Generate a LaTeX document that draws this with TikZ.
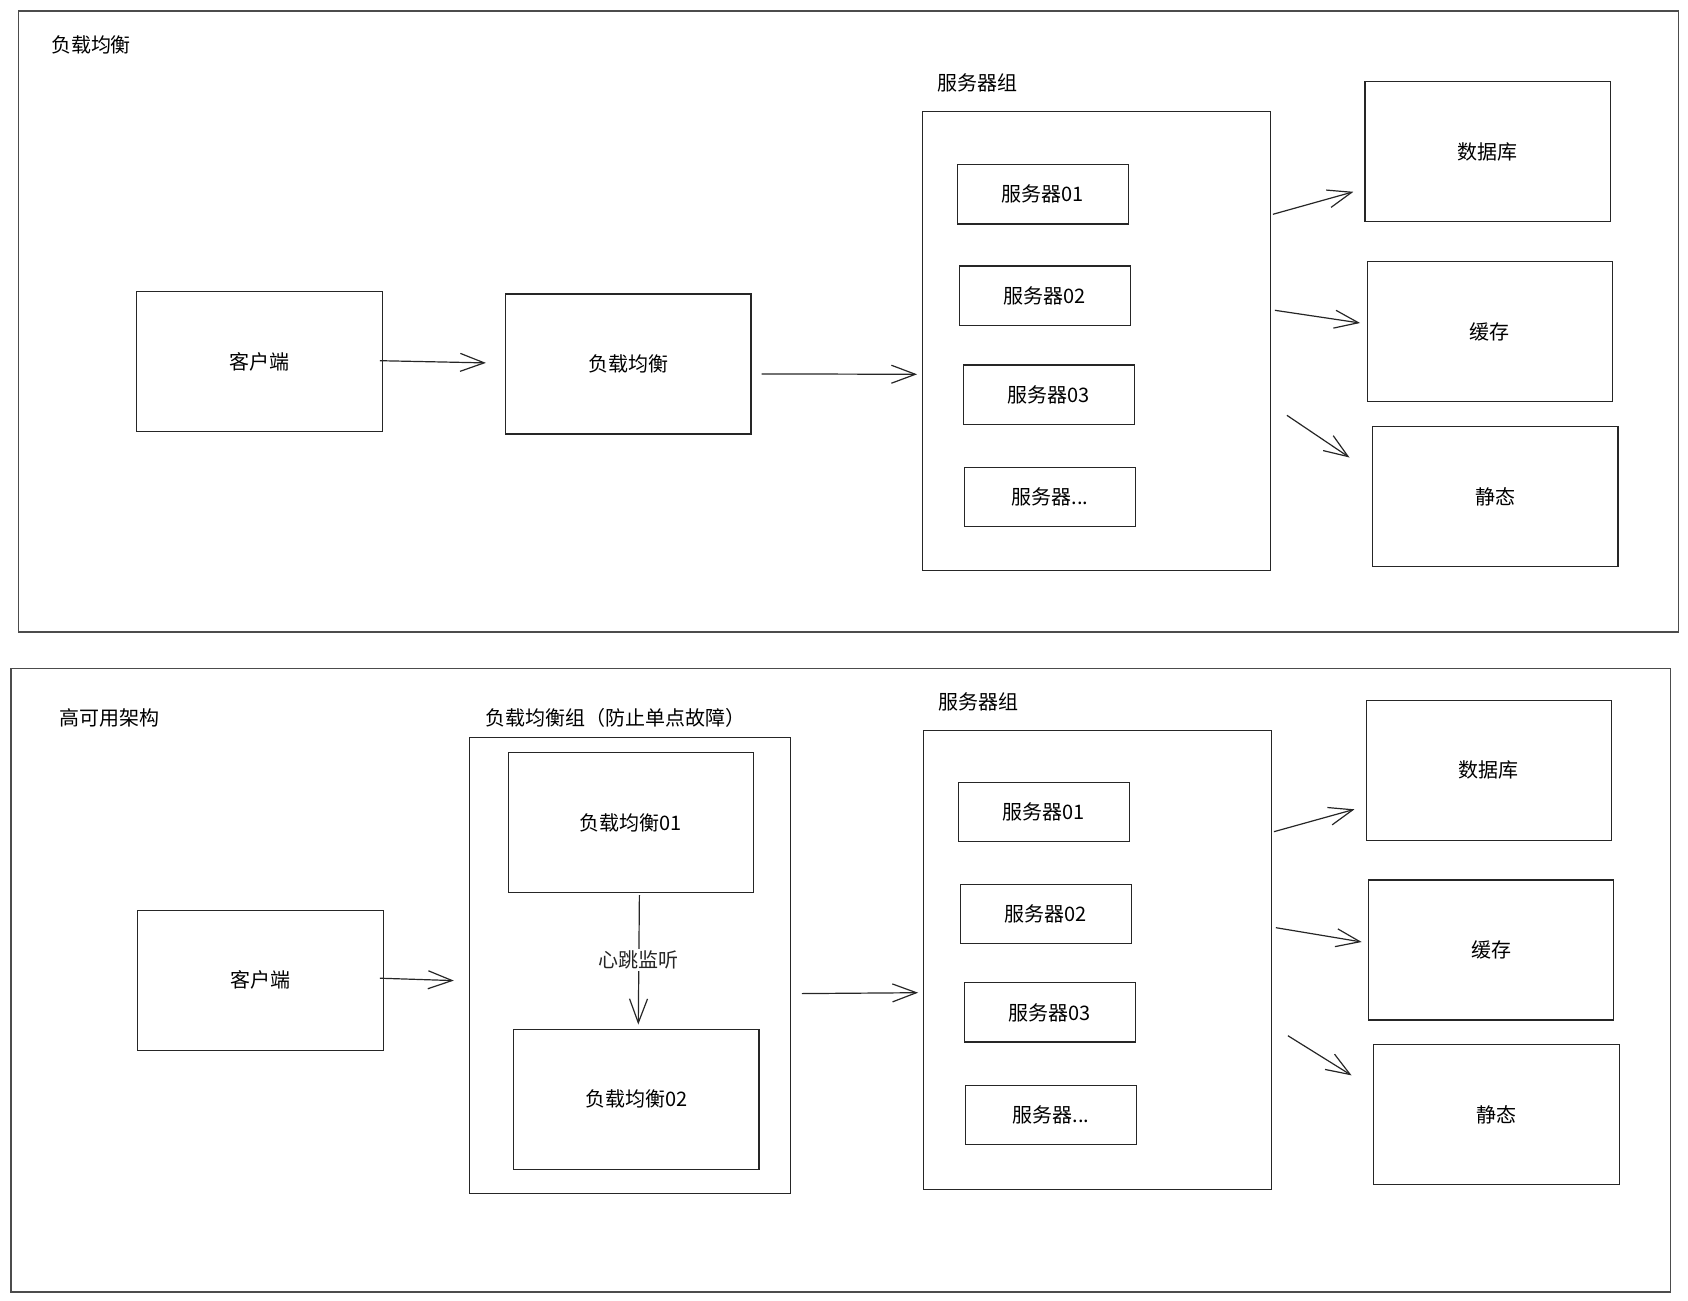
\documentclass[tikz,border=0pt]{standalone}
\usepackage{fontspec}
\newfontfamily\cjk{Noto Sans CJK SC}
\usetikzlibrary{arrows.meta, positioning, calc}

\begin{document}
\begin{tikzpicture}[
        x=0.5pt, y=-0.5pt,
        every node/.style={font=\cjk\fontsize{10}{12}\selectfont},
        frame/.style={draw=black!70, line width=0.7pt},
        box/.style={draw=black!85, line width=0.6pt, inner sep=0pt,
                     minimum width=122.7pt, minimum height=70pt},
        srv/.style={draw=black!85, line width=0.6pt, inner sep=0pt,
                     minimum width=85.5pt, minimum height=29.6pt},
        grp/.style={draw=black!85, line width=0.6pt, inner sep=0pt,
                     minimum width=173.8pt, minimum height=229.5pt},
        title/.style={anchor=west, inner sep=0pt},
        arr/.style={-{Straight Barb[length=12pt, width=9pt]}, line width=0.6pt, black!85}
      ]
        \useasboundingbox (0,0) rectangle (1688,1301);

        % top: load balancing
        \draw[frame] (18.3,10.8) rectangle (1678.3,631.9);
        \node[title] (t1) at (50.6,45.2) {负载均衡};

        \node[box] (cli1) at (259.5,361.7) {客户端};
        \node[box] (lb1) at (628.2,363.9) {负载均衡};
        \node[grp] (grp1) at (1096.5,341.3) {};
        \node[title] (gt1) at (936.6,82.9) {服务器组};
        \node[srv] (s11) at (1042.6,194.3) {服务器01};
        \node[srv] (s12) at (1044.8,295.5) {服务器02};
        \node[srv] (s13) at (1048.6,394.5) {服务器03};
        \node[srv] (s14) at (1050.1,496.8) {服务器...};
        \node[box] (db1) at (1487.7,151.8) {数据库};
        \node[box] (ca1) at (1489.9,331.6) {缓存};
        \node[box] (st1) at (1495.3,496.8) {静态};

        \draw[arr] ($(cli1.east)+(-3,-1)$) -- ($(lb1.west)+(-19,-1)$);
        \draw[arr] ($(lb1.east)+(10,10)$) -- ($(grp1.west)+(-5,33)$);
        \draw[arr] ($(grp1.east)+(2,-127)$) -- ($(db1.west)+(-11,40)$);
        \draw[arr] ($(grp1.east)+(4,-31)$) -- ($(ca1.west)+(-6.5,-8.6)$);
        \draw[arr] ($(grp1.east)+(16,74)$) -- ($(st1.west)+(-22.5,-39.3)$);

        % bottom: high availability
        \draw[frame] (10.8,668.5) rectangle (1670.7,1291.8);
        \node[title] (t2) at (59.2,718) {高可用架构};

        \node[box] (cli2) at (260.5,980.2) {客户端};
        \node[draw=black!85, line width=0.6pt, minimum width=160.4pt,
              minimum height=228.2pt, inner sep=0pt] (lbg2) at (629.8,965.6) {};
        \node[title] (lt2) at (485.5,718) {负载均衡组（防止单点故障）};
        \node[box] (lb21) at (630.8,822.5) {负载均衡01};
        \node[box] (lb22) at (636.3,1099.1) {负载均衡02};
        \node[grp] (grp2) at (1097.5,959.7) {};
        \node[title] (gt2) at (937.6,701.9) {服务器组};
        \node[srv] (s21) at (1043.7,812.2) {服务器01};
        \node[srv] (s22) at (1045.8,914) {服务器02};
        \node[srv] (s23) at (1049.6,1012.4) {服务器03};
        \node[srv] (s24) at (1051.2,1114.7) {服务器...};
        \node[box] (db2) at (1488.8,770.3) {数据库};
        \node[box] (ca2) at (1491,950) {缓存};
        \node[box] (st2) at (1496.4,1114.8) {静态};

        \draw[arr] ($(cli2.east)+(-4,-2)$) -- ($(lbg2.west)+(-15,15)$);
        \draw[arr] ($(lb21.south)+(8.6,2)$) -- node[fill=white, inner sep=1pt] {心跳监听} ($(lb22.north)+(2,-4)$);
        \draw[arr] ($(lbg2.east)+(11,28)$) -- ($(grp2.west)+(-5,33)$);
        \draw[arr] ($(grp2.east)+(2,-128)$) -- ($(db2.west)+(-11,39)$);
        \draw[arr] ($(grp2.east)+(4,-32)$) -- ($(ca2.west)+(-6,-8)$);
        \draw[arr] ($(grp2.east)+(16,76)$) -- ($(st2.west)+(-21.5,-39.4)$);
      \end{tikzpicture}
\end{document}
